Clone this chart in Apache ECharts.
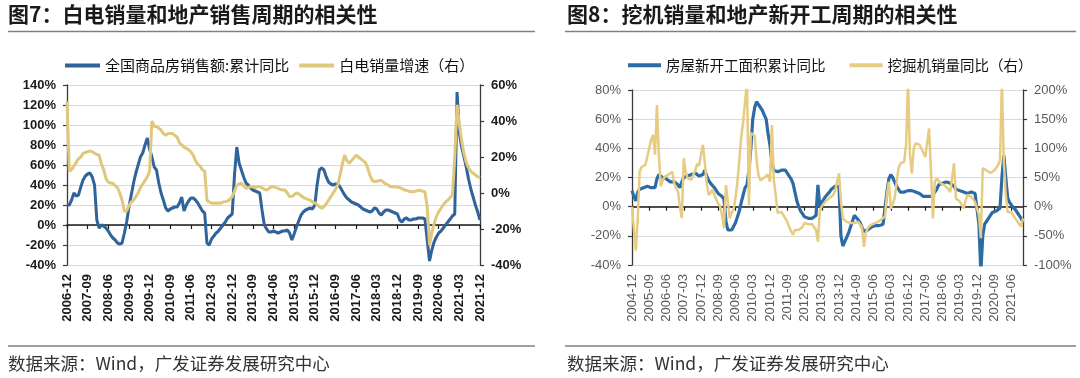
<!DOCTYPE html>
<html><head><meta charset="utf-8">
<script src="https://cdn.jsdelivr.net/npm/echarts@6/dist/echarts.min.js"></script>
<style>html,body{margin:0;padding:0;background:#fff}#c{width:1080px;height:378px}</style>
</head><body><div id="c"></div>
<script>
function months(y, m, n) {
  const out = [];
  for (let k = 0; k < n; k++) {
    out.push(y + '-' + (m < 10 ? '0' + m : '' + m));
    m++; if (m > 12) { m = 1; y++; }
  }
  return out;
}
// ---- Chart 7 data (2006-12 .. 2021-12) ----
const cat1 = months(2006, 12, 181);
const salesYoY = [20,
  20,25,32,29,30,38,45,49,51,52,48,40,
  5,-3,0,-1,-3,-6,-10,-13,-15,-18,-19,-18,
  -8,3,18,30,42,52,60,68,72,80,87,76,
  68,58,55,42,32,25,17,14,16,17,18,18,
  22,28,14,20,24,27,27,25,22,18,14,12,
  -18,-20,-14,-11,-8,-6,-3,0,3,7,9,11,
  50,78,62,55,48,42,40,37,35,34,33,32,
  15,0,-4,-7,-7,-6,-7,-8,-7,-6,-6,-5,
  -8,-15,-9,-2,4,10,13,15,16,17,16,20,
  40,55,57,55,48,43,41,40,41,41,38,34,
  30,27,25,23,22,21,20,18,16,15,14,13,
  14,17,16,12,10,13,15,15,14,13,12,11,
  5,3,6,7,5,5,6,6,7,7,7,6,
  -15,-36,-25,-17,-12,-8,-6,-3,0,3,6,9,
  11,133,92,78,68,58,46,36,28,20,13,5];
const whiteGoodsYoY = [51,
  12,13,15,17,19,20,22,22.5,23,23.3,23,22,
  21.5,21,16,13,8,6,5.5,5.4,4,3,0,-4,
  -10,-10,-7,-5,-4,-2,0,3,5,7,9,12,
  40,37,37,36,35,33,32,33,33,33,32,31,
  28,26.7,25.5,24.8,24,23,21,18,16,15,13,12,
  -4,-5,-5.7,-5.5,-5.7,-5.5,-5.7,-5,-4.8,-4.5,-3.5,-2,
  1,4.4,5,5.4,4,2.6,3,3.5,3.5,3,3.5,3.5,
  3,2,1.7,2.5,3.5,3.5,3,2.6,2,1.7,1.7,0,
  -2,-2,-1,0,-0.5,-1.5,-2.5,-3,-3.5,-4,-5,-5.5,
  -6.5,-7.5,-8.5,-7.5,-6,-4,-2,0,2,4.4,10,16,
  21,18,16.5,18,19.5,21,20,19,18,17,14,10,
  7,6.3,6.5,7,7,6,5,4.4,3.5,3.5,3.5,3.3,
  3,2.5,1.7,1.5,1,0.7,0.7,1,1.5,1.5,1,0.7,
  -8,-29,-22,-17,-13,-10.5,-8.5,-6.5,-5,-4,-2.5,-1.1,
  20,49,38,29,22,17,14,12,11,10,9,8.5];
const leftTicks1 = [-40, 140, 20];
const rightTicks1 = [-40, 60, 20];

// ---- Chart 8 data (2004-12 .. 2021-12) ----
const cat2 = months(2004, 12, 205);
const newStartsYoY = [11,
  7,4,10,12,13,13,14,14,14,13,13,13,
  19,22,21,20,21,19,18,17,18,17,16,15,
  13,17,20,21,21,22,22,22,23,22,21,21,
  22,25,21,18,16,15,13,11,9,8,7,5,
  -10,-16,-16,-16,-15,-11,-7,-3,3,8,13,15,
  25,40,60,68,72,70,68,66,63,60,50,42,
  30,25,24,24,25,25,26,25,23,21,19,16,
  10,4,0,-3,-5,-7,-8,-8,-8,-8,-9,-6,
  15,0,3,5,7,8,10,12,13,14,15,14,
  -20,-27,-24,-21,-18,-14,-10,-6,-5,-9,-11,-14,
  -17,-17,-16,-15,-14,-14,-13,-13,-13,-12,-12,-12,
  10,19,22,20,17,14,12,10,9,10,11,11,
  11,11,10,10,10,9,8,7,7,7,7,7,
  8,10,12,15,15,16,17,17,16,16,15,14,
  12,11,11,10,10,9,9,9,10,10,9,9,
  -12,-45,-20,-12,-10,-9,-6,-4,-3,-3,-2,-1,
  20,35,20,6,3,1,0,-2,-4,-6,-8,-11];
const excavatorYoY = [0,
  -40,-75,-20,60,68,70,72,74,100,115,123,89,
  174,90,35,45,51,53,55,58,60,40,32,26,
  0,-20,83,60,49,48,46,55,62,74,70,90,
  106,75,40,20,24,29,20,12,5,0,-15,-37,
  37,10,-20,-10,-5,15,43,80,120,146,180,215,
  3,126,124,122,80,54,45,43,50,52,55,43,
  140,45,20,-11,-10,-9,-8,-20,-26,-35,-42,-48,
  -40,-37,-40,-43,-35,-28,-30,-30,-29,-30,-32,-40,
  -60,-6,0,5,9,12,15,18,20,28,31,57,
  10,-20,-23,-26,-27,-28,-29,-28,-27,-26,-26,-35,
  -69,-45,-37,-33,-30,-29,-28,-27,-26,-22,-20,-17,
  20,43,-3,5,14,40,65,74,75,77,106,215,
  90,57,100,109,108,106,100,97,85,83,134,60,
  -20,43,48,50,40,37,37,37,30,25,23,74,
  14,12,9,3,-3,10,20,18,17,17,8,-3,
  -15,-54,66,64,62,60,58,60,62,60,71,80,
  215,77,20,-9,-10,-10,-11,-20,-25,-30,-34,-20];
const leftTicks2 = [-40, 80, 20];
const rightTicks2 = [-100, 200, 50];

const names1 = ['全国商品房销售额:累计同比', '白电销量增速（右）'];
const names2 = ['房屋新开工面积累计同比', '挖掘机销量同比（右）'];
const titles = ['图7：白电销量和地产销售周期的相关性', '图8：挖机销量和地产新开工周期的相关性'];
const source = '数据来源：Wind，广发证券发展研究中心';

const C1B = '#2f639a', C1Y = '#dfc77b', C2B = '#2d6ba6', C2Y = '#e6cb80';
const cjk = '"Noto Sans CJK SC", sans-serif';
const lat = '"Liberation Sans", Arial, sans-serif';

function yAx(grid, t, pos, lbl, split) {
  return {
    type: 'value', gridIndex: grid, position: pos, min: t[0], max: t[1], interval: t[2],
    axisLine: { show: true, lineStyle: { color: '#3a3a3a', width: 1.3 } },
    axisTick: { show: true, length: 4, lineStyle: { color: '#3a3a3a', width: 1.2 } },
    axisLabel: Object.assign({ formatter: '{value}%', margin: 11 }, lbl),
    splitLine: { show: split, lineStyle: { color: '#d9d9d9', width: 1 } }
  };
}
function xLbl(grid, cats, lbl) {
  return {
    type: 'category', gridIndex: grid, data: cats, boundaryGap: false, position: 'bottom',
    axisLine: { show: false, onZero: false }, axisTick: { show: false },
    axisLabel: Object.assign({ interval: 8, rotate: 90, margin: 9 }, lbl),
    splitLine: { show: false }
  };
}
function xZero(grid, cats, yIdx) {
  return {
    type: 'category', gridIndex: grid, data: cats, boundaryGap: false, position: 'bottom',
    axisLine: { show: true, onZero: true, onZeroAxisIndex: yIdx, lineStyle: { color: '#1a1a1a', width: 1.5 } },
    axisTick: { show: true, interval: 8, length: 4, inside: false, lineStyle: { color: '#1a1a1a', width: 1.2 } },
    axisLabel: { show: false }, splitLine: { show: false }
  };
}
const lbl1 = { fontFamily: lat, fontWeight: 'bold', fontSize: 13, color: '#1a1a1a' };
const lbl2 = { fontFamily: lat, fontWeight: 'normal', fontSize: 13, color: '#595959' };

const chart = echarts.init(document.getElementById('c'), null, { renderer: 'canvas' });
chart.setOption({
  animation: false,
  backgroundColor: '#fff',
  grid: [
    { left: 67, right: 600, top: 85, bottom: 113, containLabel: false },
    { left: 632, right: 57, top: 90, bottom: 113, containLabel: false }
  ],
  xAxis: [xLbl(0, cat1, lbl1), xZero(0, cat1, 0), xLbl(1, cat2, lbl2), xZero(1, cat2, 2)],
  yAxis: [
    yAx(0, leftTicks1, 'left', lbl1, true), yAx(0, rightTicks1, 'right', lbl1, false),
    yAx(1, leftTicks2, 'left', lbl2, true), yAx(1, rightTicks2, 'right', lbl2, false)
  ],
  legend: [
    { data: names1, left: 60, top: 53, icon: 'rect', itemWidth: 35, itemHeight: 4, itemGap: 10,
      textStyle: { fontFamily: cjk, fontSize: 15, color: '#111' } },
    { data: names2, left: 623, top: 53, icon: 'rect', itemWidth: 33, itemHeight: 4, itemGap: 24,
      textStyle: { fontFamily: cjk, fontSize: 14.5, color: '#111' } }
  ],
  series: [
    { name: names1[0], type: 'line', xAxisIndex: 0, yAxisIndex: 0, data: salesYoY, showSymbol: false, symbol: 'none',
      lineStyle: { color: C1B, width: 3 }, itemStyle: { color: C1B }, z: 3 },
    { name: names1[1], type: 'line', xAxisIndex: 0, yAxisIndex: 1, data: whiteGoodsYoY, showSymbol: false, symbol: 'none',
      lineStyle: { color: C1Y, width: 3 }, itemStyle: { color: C1Y }, z: 4 },
    { name: names2[0], type: 'line', xAxisIndex: 2, yAxisIndex: 2, data: newStartsYoY, showSymbol: false, symbol: 'none',
      lineStyle: { color: C2B, width: 3.2 }, itemStyle: { color: C2B }, z: 3 },
    { name: names2[1], type: 'line', xAxisIndex: 2, yAxisIndex: 3, data: excavatorYoY, showSymbol: false, symbol: 'none',
      lineStyle: { color: C2Y, width: 2.5 }, itemStyle: { color: C2Y }, z: 4 }
  ],
  graphic: [
    { type: 'text', left: 8, top: 4, style: { text: titles[0], font: 'bold 21px ' + cjk, fill: '#1a1a1a' } },
    { type: 'text', left: 567, top: 4, style: { text: titles[1], font: 'bold 21px ' + cjk, fill: '#1a1a1a' } },
    { type: 'line', shape: { x1: 8, y1: 31.5, x2: 535, y2: 31.5 }, style: { stroke: '#7f7f7f', lineWidth: 1.5 } },
    { type: 'line', shape: { x1: 565, y1: 31.5, x2: 1076, y2: 31.5 }, style: { stroke: '#7f7f7f', lineWidth: 1.5 } },
    { type: 'line', shape: { x1: 8, y1: 346, x2: 535, y2: 346 }, style: { stroke: '#7f7f7f', lineWidth: 1.5 } },
    { type: 'line', shape: { x1: 565, y1: 346, x2: 1076, y2: 346 }, style: { stroke: '#7f7f7f', lineWidth: 1.5 } },
    { type: 'text', left: 8, top: 355, style: { text: source, font: '17.5px ' + cjk, fill: '#333' } },
    { type: 'text', left: 567, top: 355, style: { text: source, font: '17.5px ' + cjk, fill: '#333' } }
  ]
});
</script>
</body></html>
